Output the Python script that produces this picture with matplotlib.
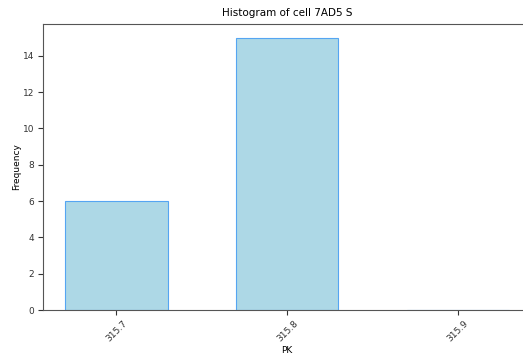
import numpy as np
import matplotlib
matplotlib.use("Agg")
import matplotlib.pyplot as plt

pk_values = ["315.7", "315.8", "315.9"]
frequencies = [6, 15, 0]

fig = plt.figure(figsize=(5.23, 3.54), dpi=100)
ax = fig.add_axes([43 / 523, 44 / 354, 488.5 / 523, 286 / 354])

x = np.arange(len(pk_values))
ax.bar(x, frequencies, width=0.6, color="lightblue", edgecolor="#55a5f2", linewidth=0.8)
ax.set_xticks(x)
ax.set_xticklabels(pk_values, rotation=45)
ax.set_xlim(-0.43, 2.43)
ax.set_ylim(0, 15.75)
ax.set_yticks(range(0, 16, 2))
ax.tick_params(labelsize=6.5, colors="#333333", pad=3)
for s in ax.spines.values():
    s.set_color("#555555")
ax.set_xlabel("PK", fontsize=6.5, labelpad=2)
ax.set_ylabel("Frequency", fontsize=6.5, labelpad=1)
ax.set_title("Histogram of cell 7AD5 S", fontsize=7.5)

fig.savefig("out.png", dpi=100)
